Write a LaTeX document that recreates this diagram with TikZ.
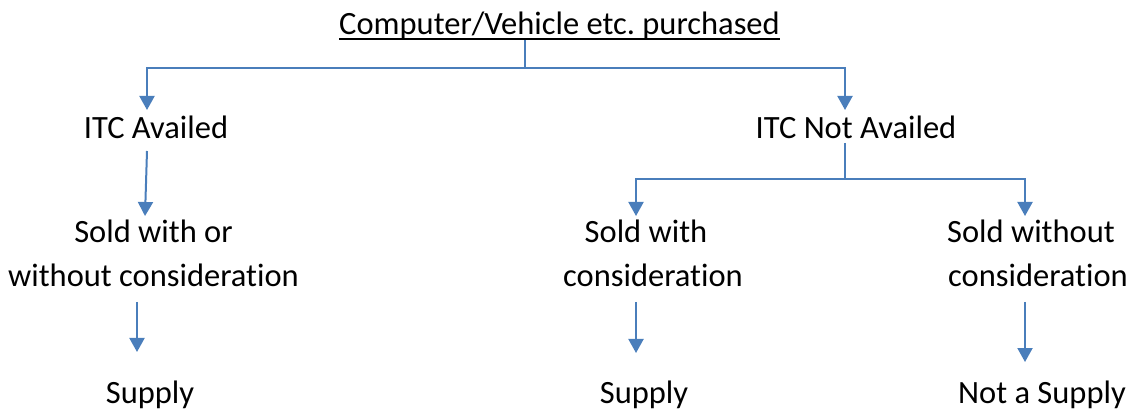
\documentclass[tikz,border=0pt]{standalone}
\usepackage{fontspec}
\setmainfont{Carlito}[Ligatures={NoCommon}]
\usetikzlibrary{arrows.meta}
\definecolor{linkblue}{RGB}{74,126,187}
\frenchspacing
\tikzset{
  lbl/.style={anchor=base, inner sep=0pt, font=\fontsize{32.5}{39}\selectfont, text=black},
  conn/.style={draw=linkblue, line width=2pt},
  arr/.style={conn, -{Triangle[width=15pt,length=14pt]}},
}
\begin{document}
\begin{tikzpicture}[x=1pt,y=-1pt]
\useasboundingbox (0,0) rectangle (1129,411);

% labels
\node[lbl] (title) at (559.5,35) {Computer/Vehicle etc. purchased};
\draw[line width=2pt] ([yshift=-4pt]title.base west) -- ([yshift=-4pt]title.base east);

\node[lbl] (itca) at (156,139) {ITC Availed};
\node[lbl] (itcn) at (856,139) {ITC Not Availed};

\node[lbl] (s1a) at (153.5,243) {Sold with or};
\node[lbl] (s1b) at (153.5,287) {without consideration};
\node[lbl] (s2a) at (646,243) {Sold with};
\node[lbl] (s2b) at (653,287) {consideration};
\node[lbl] (s3a) at (1031,243) {Sold without};
\node[lbl] (s3b) at (1038,287) {consideration};

\node[lbl] (p1) at (150,403) {Supply};
\node[lbl] (p2) at (644,403) {Supply};
\node[lbl] (p3) at (1042,403) {Not a Supply};

% junction and arrow-tip points
\coordinate (t0) at (525,40);
\coordinate (j0) at (525,68);
\coordinate (ta) at (147,110);
\coordinate (tn) at (845,110);
\coordinate (a0) at (147,151);
\coordinate (a1) at (145,216);
\coordinate (n0) at (845,143);
\coordinate (j1) at (845,179);
\coordinate (tb) at (636,216);
\coordinate (tc) at (1025,216);
\coordinate (b0) at (137,302);
\coordinate (b1) at (137,352);
\coordinate (c0) at (636,302);
\coordinate (c1) at (636,353);
\coordinate (d0) at (1025,302);
\coordinate (d1) at (1025,362);

% connectors
\draw[conn] (t0) -- (j0);
\draw[arr] (j0) -| (ta);
\draw[arr] (j0) -| (tn);
\draw[arr] (a0) -- (a1);
\draw[conn] (n0) -- (j1);
\draw[arr] (j1) -| (tb);
\draw[arr] (j1) -| (tc);
\draw[arr] (b0) -- (b1);
\draw[arr] (c0) -- (c1);
\draw[arr] (d0) -- (d1);
\end{tikzpicture}
\end{document}
